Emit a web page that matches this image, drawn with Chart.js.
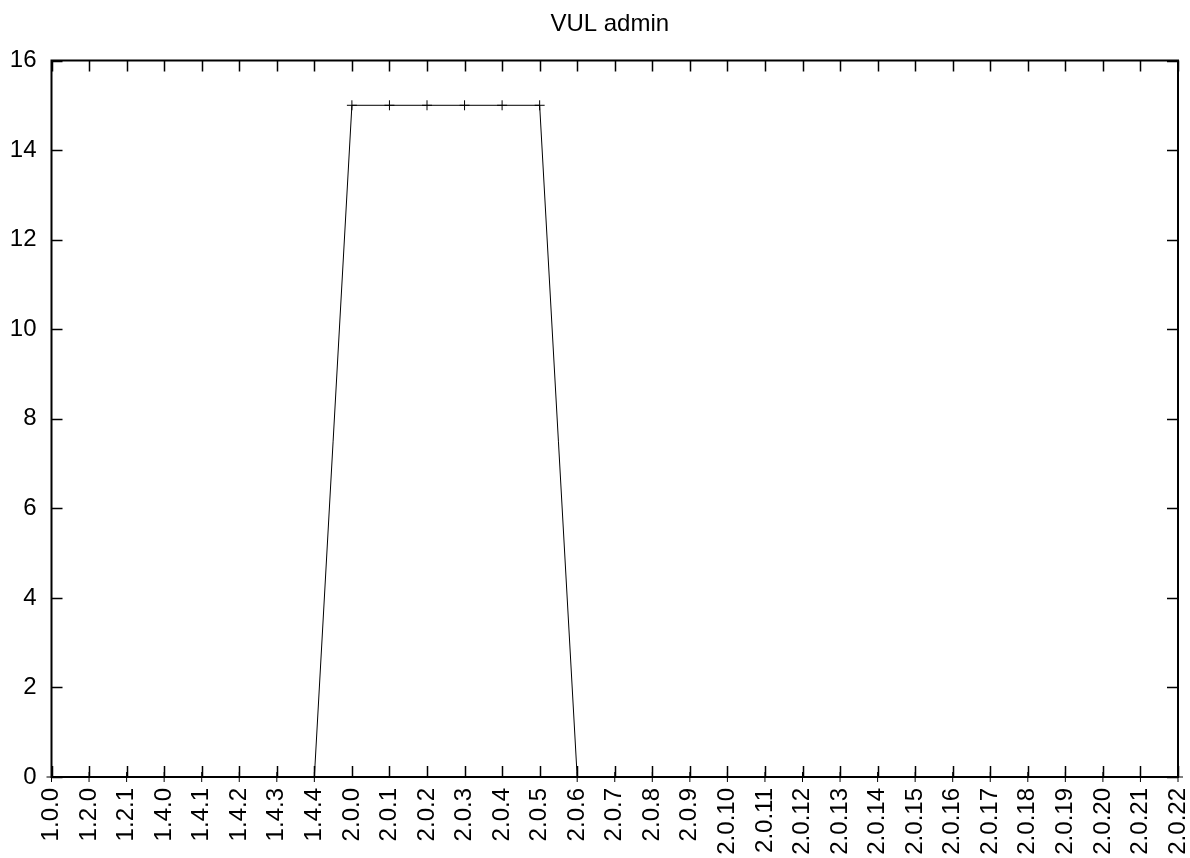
<!DOCTYPE html>
<html>
<head>
<meta charset="utf-8">
<script src="https://cdn.jsdelivr.net/npm/chart.js@4.4.1/dist/chart.umd.min.js"></script>
<style>
  html, body { margin: 0; padding: 0; background: #fff; }
  #chart { display: block; }
</style>
</head>
<body>
<canvas id="chart" width="1190" height="858"></canvas>
<script>
// versions on the x axis
const versions = [
  "1.0.0", "1.2.0", "1.2.1", "1.4.0", "1.4.1", "1.4.2", "1.4.3", "1.4.4",
  "2.0.0", "2.0.1", "2.0.2", "2.0.3", "2.0.4", "2.0.5", "2.0.6", "2.0.7",
  "2.0.8", "2.0.9", "2.0.10", "2.0.11", "2.0.12", "2.0.13", "2.0.14", "2.0.15",
  "2.0.16", "2.0.17", "2.0.18", "2.0.19", "2.0.20", "2.0.21", "2.0.22"
];
// number of vulnerabilities per version
const vulCounts = [
  0, 0, 0, 0, 0, 0, 0, 0,
  15, 15, 15, 15, 15, 15, 0, 0,
  0, 0, 0, 0, 0, 0, 0, 0,
  0, 0, 0, 0, 0, 0, 0
];
const yMin = 0;
const yMax = 16;
const yStep = 2;

const FONT = "'Liberation Sans', Arial, Helvetica, sans-serif";
const FONT_SIZE = 24;

// gnuplot style frame with inward ticks on all four sides
const frameTicks = {
  id: "frameTicks",
  afterLayout(chart) {
    // center the title over the plot area, like gnuplot does
    if (chart.titleBlock) {
      chart.titleBlock.left = chart.chartArea.left - 5;
      chart.titleBlock.right = chart.chartArea.right - 5;
    }
  },
  afterDatasetsDraw(chart) {
    const { ctx, chartArea: a, scales } = chart;
    const len = 11;
    ctx.save();
    ctx.strokeStyle = "#000";
    ctx.lineWidth = 1.5;
    ctx.beginPath();
    scales.x.ticks.forEach((t, i) => {
      const x = Math.round(scales.x.getPixelForTick(i)) + 0.5;
      ctx.moveTo(x, a.bottom); ctx.lineTo(x, a.bottom - len);
      ctx.moveTo(x, a.top); ctx.lineTo(x, a.top + len);
    });
    scales.y.ticks.forEach((t, i) => {
      const y = Math.round(scales.y.getPixelForTick(i)) + 0.5;
      ctx.moveTo(a.left, y); ctx.lineTo(a.left + len, y);
      ctx.moveTo(a.right, y); ctx.lineTo(a.right - len, y);
    });
    ctx.stroke();
    ctx.lineWidth = 2;
    ctx.strokeRect(a.left, a.top, a.right - a.left, a.bottom - a.top);
    ctx.restore();
  }
};

new Chart(document.getElementById("chart"), {
  type: "line",
  data: {
    labels: versions,
    datasets: [{
      data: vulCounts,
      borderColor: "#000",
      borderWidth: 1,
      pointStyle: "cross",
      pointRadius: 5,
      pointBorderWidth: 1,
      pointBorderColor: "#000",
      tension: 0,
      clip: false
    }]
  },
  options: {
    responsive: false,
    animation: false,
    layout: { padding: { left: 0, right: 12, top: 0, bottom: 0 } },
    plugins: {
      legend: { display: false },
      tooltip: { enabled: false },
      title: {
        display: true,
        text: "VUL admin",
        color: "#000",
        font: { family: FONT, size: 24, weight: "normal" },
        padding: { top: 10, bottom: 21.7 }
      }
    },
    scales: {
      x: {
        type: "category",
        offset: false,
        grid: { display: false, drawTicks: false },
        border: { display: false },
        ticks: {
          color: "#000",
          font: { family: FONT, size: FONT_SIZE },
          minRotation: 90,
          maxRotation: 90,
          autoSkip: false,
          padding: 11
        },
        afterFit(scale) {
          scale.height = 81;
          scale.paddingLeft = 0;
          scale.paddingRight = 0;
        }
      },
      y: {
        min: yMin,
        max: yMax,
        grid: { display: false, drawTicks: false },
        border: { display: false },
        ticks: {
          stepSize: yStep,
          color: "#000",
          font: { family: FONT, size: FONT_SIZE },
          padding: 15
        },
        afterFit(scale) {
          scale.width = 51.5;
          scale.paddingTop = 0;
          scale.paddingBottom = 0;
        }
      }
    }
  },
  plugins: [frameTicks]
});
</script>
</body>
</html>
